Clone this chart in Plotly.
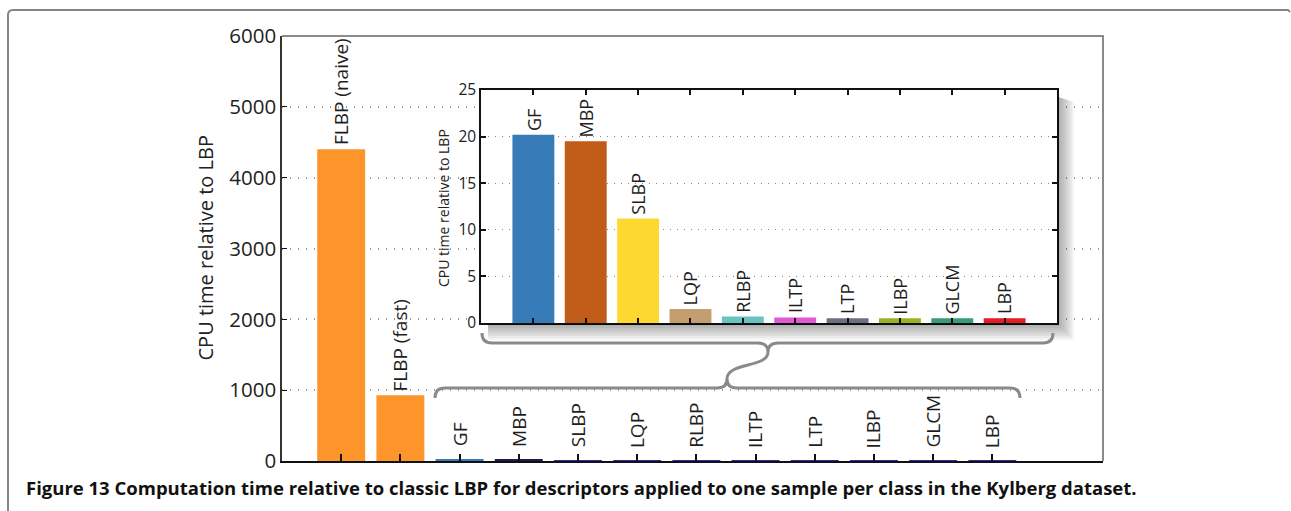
import plotly.graph_objects as go

# ---------------- data ----------------
main_cats = ["FLBP (naive)", "FLBP (fast)", "GF", "MBP", "SLBP", "LQP", "RLBP",
             "ILTP", "LTP", "ILBP", "GLCM", "LBP"]
main_vals = [4400, 930, 20.2, 19.5, 11.2, 1.5, 0.7, 0.6, 0.5, 0.5, 0.5, 0.5]
main_colors = ["#fd952b", "#fd952b", "#3a7cb9", "#1c1c5c", "#2a2ab4", "#2a2ab4",
               "#2a2ab4", "#2a2ab4", "#2a2ab4", "#2a2ab4", "#2a2ab4", "#2a2ab4"]

inset_cats = ["GF", "MBP", "SLBP", "LQP", "RLBP", "ILTP", "LTP", "ILBP", "GLCM", "LBP"]
inset_vals = [20.2, 19.5, 11.2, 1.5, 0.7, 0.6, 0.5, 0.5, 0.5, 0.5]
inset_colors = ["#377cb8", "#c05b18", "#fdd830", "#c49e6e", "#6bc2c4", "#e05ad8",
                "#6b6f82", "#98b322", "#3a9b7a", "#e21d24"]

main_yticks = [0, 1000, 2000, 3000, 4000, 5000, 6000]
inset_yticks = [0, 5, 10, 15, 20, 25]

y_title = "CPU time relative to LBP"
caption = ("Figure 13 Computation time relative to classic LBP for descriptors "
           "applied to one sample per class in the Kylberg dataset.")

# ---------------- layout geometry (pixels) ----------------
W, H = 1291, 511
L, R, T, B = 282, 1103, 36, 461
FONT = "Open Sans"

def X(px):
    return (px - L) / (R - L)

def Y(py):
    return (B - py) / (B - T)

def P(px, py):
    return f"{X(px):.5f},{Y(py):.5f}"

fig = go.Figure()
fig.add_trace(go.Bar(x=main_cats, y=main_vals, marker_color=main_colors,
                     marker_line_width=0, width=0.81, xaxis="x", yaxis="y",
                     hoverinfo="x+y"))
fig.add_trace(go.Bar(x=inset_cats, y=inset_vals, marker_color=inset_colors,
                     marker_line_width=0, width=0.8, xaxis="x2", yaxis="y2",
                     hoverinfo="x+y"))

annotations = []
for c, v in zip(main_cats, main_vals):
    annotations.append(dict(x=c, y=v, xref="x", yref="y", text=c, textangle=-90,
                            showarrow=False, xanchor="center", yanchor="bottom",
                            yshift=2 if v > 100 else 11,
                            font=dict(family=FONT, size=19, color="#1e1e1e")))
for c, v in zip(inset_cats, inset_vals):
    annotations.append(dict(x=c, y=v, xref="x2", yref="y2", text=c, textangle=-90,
                            showarrow=False, xanchor="center", yanchor="bottom",
                            yshift=2,
                            font=dict(family=FONT, size=18, color="#1e1e1e")))
# axis titles
annotations.append(dict(x=X(205), y=0.5, xref="paper", yref="paper", text=y_title,
                        textangle=-90, showarrow=False, xanchor="center", yanchor="middle",
                        font=dict(family=FONT, size=20, color="#222")))
annotations.append(dict(x=X(444), y=Y(208), xref="paper", yref="paper", text=y_title,
                        textangle=-90, showarrow=False, xanchor="center", yanchor="middle",
                        font=dict(family=FONT, size=14, color="#222")))
annotations.append(dict(x=X(24), y=Y(487), xref="paper", yref="paper",
                        text="<b>" + caption + "</b>", showarrow=False,
                        xanchor="left", yanchor="middle",
                        font=dict(family=FONT, size=18.5, color="#111")))

shapes = []
# outer rounded frame
shapes.append(dict(type="path", xref="paper", yref="paper",
                   path=f"M {P(8, 530)} L {P(8, 15)} Q {P(8, 10)} {P(13, 10)} L {P(1288, 10)} L {P(1290, 12)}",
                   line=dict(color="#858585", width=2)))
# top / right border of main axes
shapes.append(dict(type="path", xref="paper", yref="paper",
                   path=f"M {P(L, T)} L {P(R, T)} L {P(R, B)}",
                   line=dict(color="#666", width=1.5)))
# inset drop shadow
for i in range(2, 18, 2):
    pth = (f"M {P(1058, 97)} L {P(1058 + i, 97 + i * 0.3)} L {P(1058 + i, 324 + i)} "
           f"L {P(488, 324 + i)} L {P(488, 324)} L {P(1058, 324)} Z")
    shapes.append(dict(type="path", xref="paper", yref="paper", path=pth,
                       fillcolor="rgba(0,0,0,0.045)", line=dict(width=0)))
# braces
gray = "#8a8a8a"
brace = (f"M {P(482, 333)} Q {P(482, 343)} {P(492, 343)} L {P(758, 343)} Q {P(768, 343)} {P(768, 352)} "
         f"M {P(1053, 333)} Q {P(1053, 343)} {P(1043, 343)} L {P(778, 343)} Q {P(768, 343)} {P(768, 352)} "
         f"C {P(768, 368)} {P(727, 362)} {P(727, 379)} "
         f"M {P(435, 398)} Q {P(435, 388)} {P(445, 388)} L {P(717, 388)} Q {P(727, 388)} {P(727, 379)} "
         f"M {P(1020, 398)} Q {P(1020, 388)} {P(1010, 388)} L {P(737, 388)} Q {P(727, 388)} {P(727, 379)}")
shapes.append(dict(type="path", xref="paper", yref="paper", path=brace,
                   line=dict(color=gray, width=3)))

fig.update_layout(
    width=W, height=H,
    margin=dict(l=L, r=W - R, t=T, b=H - B, pad=0),
    paper_bgcolor="white", plot_bgcolor="white",
    showlegend=False,
    font=dict(family=FONT, color="#222"),
    annotations=annotations,
    shapes=shapes,
    xaxis=dict(domain=[0, 1], range=[-1.0, 12.87], showticklabels=False,
               ticks="inside", ticklen=7, tickwidth=1.5, tickcolor="#111",
               showline=True, linecolor="#111", linewidth=1.5, showgrid=False,
               zeroline=False, fixedrange=True),
    yaxis=dict(domain=[0, 1], range=[0, 6000], tickvals=main_yticks,
               ticktext=[str(t) for t in main_yticks],
               tickfont=dict(family=FONT, size=20.5, color="#222"),
               ticks="inside", ticklen=5, tickcolor="#111",
               showline=True, linecolor="#333", linewidth=1.5,
               showgrid=True, gridcolor="#9a9a9a", griddash="1px,7px", gridwidth=1.5,
               zeroline=False, fixedrange=True),
    xaxis2=dict(domain=[X(481), X(1057)], anchor="y2", range=[-1.0, 10.0],
                showticklabels=False, ticks="inside", ticklen=5, tickwidth=1.5,
                tickcolor="#111", mirror="ticks", showline=True, linecolor="#111",
                linewidth=1.5, showgrid=False, zeroline=False, fixedrange=True),
    yaxis2=dict(domain=[Y(323), Y(90)], anchor="x2", range=[0, 25],
                tickvals=inset_yticks, ticktext=[str(t) for t in inset_yticks],
                tickfont=dict(family=FONT, size=15.5, color="#222"),
                ticks="inside", ticklen=5, tickwidth=1.5, tickcolor="#111",
                mirror="ticks", showline=True, linecolor="#111", linewidth=1.5,
                showgrid=True, gridcolor="#888", griddash="1px,6px", gridwidth=1.2,
                zeroline=False, fixedrange=True),
)

fig.write_html("out.html")
